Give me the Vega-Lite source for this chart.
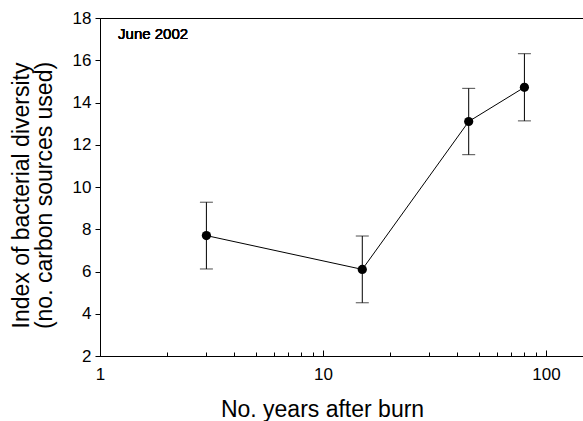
{
  "$schema": "https://vega.github.io/schema/vega-lite/v6.json",
  "autosize": "none",
  "width": 484,
  "height": 338,
  "padding": {"left": 100, "top": 18, "right": 0, "bottom": 65},
  "background": "white",
  "config": {
    "view": {"stroke": "black", "strokeWidth": 1},
    "font": "Liberation Sans",
    "axis": {"grid": false, "domainColor": "black", "tickColor": "black", "labelColor": "black", "titleColor": "black", "labelFont": "Liberation Sans", "titleFont": "Liberation Sans", "titleFontWeight": "normal"}
  },
  "data": {
    "values": [
      {"years": 3, "diversity": 7.7, "lo": 6.12, "hi": 9.28},
      {"years": 15, "diversity": 6.1, "lo": 4.52, "hi": 7.68},
      {"years": 45, "diversity": 13.1, "lo": 11.53, "hi": 14.67},
      {"years": 80, "diversity": 14.72, "lo": 13.13, "hi": 16.31}
    ]
  },
  "encoding": {
    "x": {
      "field": "years", "type": "quantitative",
      "scale": {"type": "log", "domain": [1, 148], "nice": false},
      "axis": {
        "title": "No. years after burn",
        "titleFontSize": 23,
        "titlePadding": 14,
        "titleX": 222,
        "values": [1,2,3,4,5,6,7,8,9,10,20,30,40,50,60,70,80,90,100],
        "labelExpr": "(datum.value == 1 || datum.value == 10 || datum.value == 100) ? datum.label : ''",
        "labelFontSize": 17,
        "labelPadding": 16,
        "tickSize": {"condition": {"test": "datum.value == 1 || datum.value == 10 || datum.value == 100", "value": -6}, "value": -4},
        "labelFlush": false,
        "labelOverlap": false
      }
    },
    "y": {
      "type": "quantitative",
      "scale": {"domain": [2, 18], "nice": false},
      "axis": {
        "title": ["Index of bacterial diversity", "(no. carbon sources used)"],
        "titleFontSize": 23,
        "titlePadding": 16,
        "titleLineHeight": 23,
        "titleY": 177,
        "values": [2,4,6,8,10,12,14,16,18],
        "labelFontSize": 17,
        "tickSize": 5,
        "labelPadding": 4
      }
    }
  },
  "layer": [
    {"mark": {"type": "rule", "color": "black", "strokeWidth": 1}, "encoding": {"y": {"field": "lo"}, "y2": {"field": "hi"}}},
    {"mark": {"type": "tick", "orient": "horizontal", "size": 13, "thickness": 1, "color": "black"}, "encoding": {"y": {"field": "lo"}}},
    {"mark": {"type": "tick", "orient": "horizontal", "size": 13, "thickness": 1, "color": "black"}, "encoding": {"y": {"field": "hi"}}},
    {"mark": {"type": "line", "color": "black", "strokeWidth": 1}, "encoding": {"y": {"field": "diversity"}}},
    {"mark": {"type": "point", "filled": true, "color": "black", "opacity": 1, "size": 85}, "encoding": {"y": {"field": "diversity"}}},
    {"mark": {"type": "text", "text": "June 2002", "fontSize": 15, "fontWeight": 400, "font": "Arial", "align": "left", "baseline": "middle", "color": "black"}, "encoding": {"x": {"datum": 1.205}, "y": {"datum": 17.22}}}
  ]
}
